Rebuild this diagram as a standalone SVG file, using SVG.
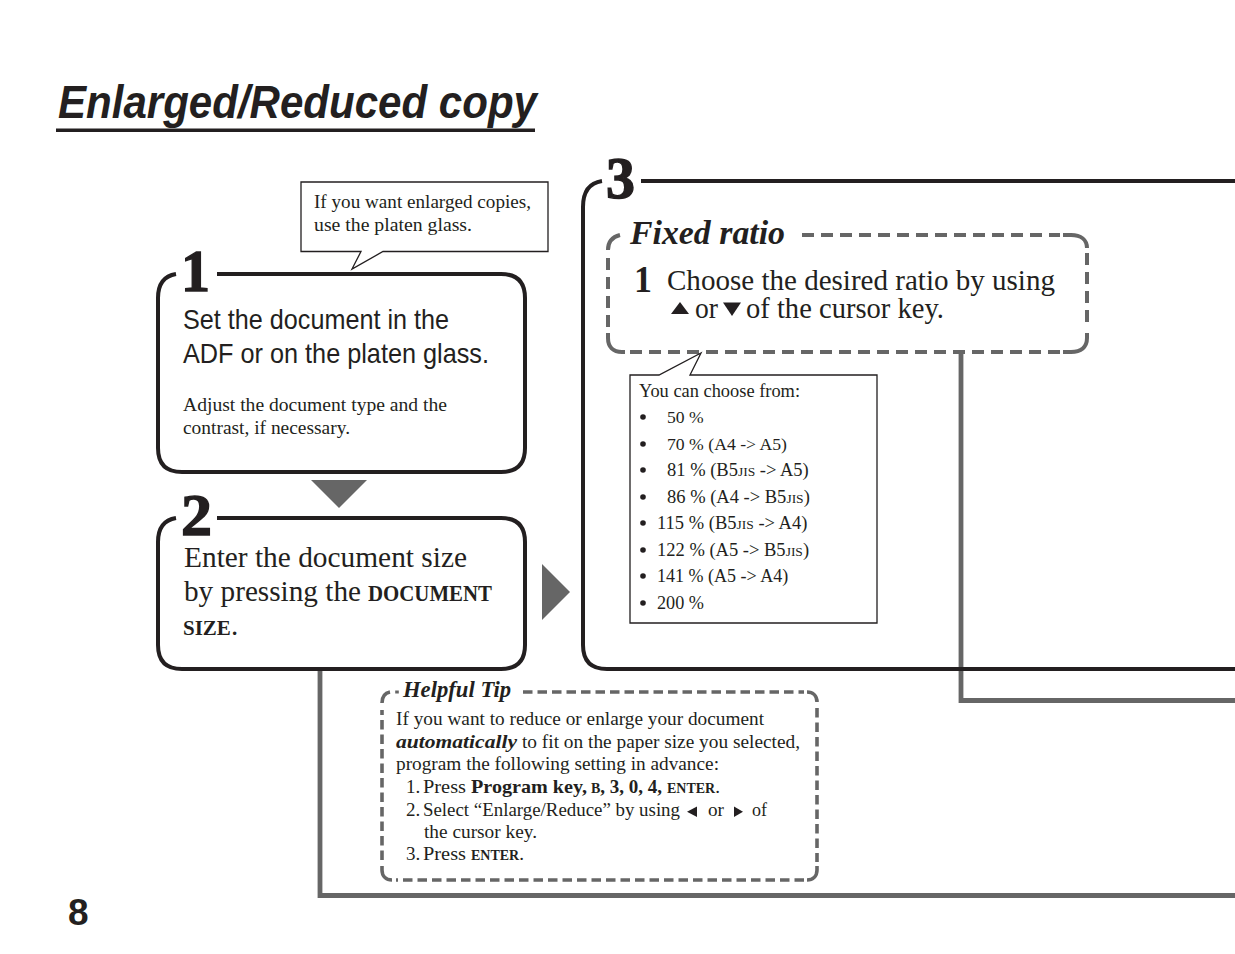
<svg xmlns="http://www.w3.org/2000/svg" width="1235" height="954" viewBox="0 0 1235 954">
<style>
text{font-family:"Liberation Serif","DejaVu Serif",serif;fill:#231f20;font-size:19px}
.s{font-family:"Liberation Sans",Arial,sans-serif}
.b{font-weight:700}
.bi{font-weight:700;font-style:italic}
.big{font-size:28px}
.mid{font-size:29px}
.sc{font-size:14px;font-weight:700}
.jis{font-size:13.500px}
.num{font-size:60px;font-weight:700;stroke:#231f20;stroke-width:1.400}
.frame{fill:none;stroke:#231f20;stroke-width:4}
.dash{fill:none;stroke:#666;stroke-width:4;stroke-dasharray:12 7}
.dash2{fill:none;stroke:#666;stroke-width:3.600;stroke-dasharray:9.500 5}
.corner{fill:none;stroke:#666;stroke-width:4}
.conn{fill:none;stroke:#666;stroke-width:4.800}
.call{fill:#fff;stroke:#231f20;stroke-width:1.300}
.tri{fill:#666}
.key{fill:#231f20}
</style>
<rect width="1235" height="954" fill="#fff"/>
<g id="title">
<text class="s bi" x="58" y="118" style="font-size:46px" textLength="479" lengthAdjust="spacingAndGlyphs">Enlarged/Reduced copy</text>
<rect x="56" y="128.500" width="479" height="3.500" fill="#231f20"/>
</g>
<g id="connectors">
<path class="conn" d="M320 671V895.500H1235"/>
<path class="conn" d="M961 352V700.500H1235"/>
<path class="tri" d="M311 480H367L339 508Z"/>
<path class="tri" d="M542 564V620L570 592Z"/>
</g>
<g id="step1">
<path class="frame" d="M176 274C164 276 158 284 158 298V448C158 464 166 472 182 472H501C517 472 525 464 525 448V298C525 282 517 274 501 274H217"/>
<text class="num" x="181" y="291" textLength="29" lengthAdjust="spacingAndGlyphs">1</text>
<text class="s big" x="183" y="329" textLength="266" lengthAdjust="spacingAndGlyphs">Set the document in the</text>
<text class="s big" x="183" y="363" textLength="306" lengthAdjust="spacingAndGlyphs">ADF or on the platen glass.</text>
<text x="183" y="411" textLength="264" lengthAdjust="spacingAndGlyphs">Adjust the document type and the</text>
<text x="183" y="434" textLength="167" lengthAdjust="spacingAndGlyphs">contrast, if necessary.</text>
</g>
<g id="callout-platen">
<path class="call" d="M301 182H548V251.500H383L352 269L361 251.500H301Z"/>
<text x="314" y="208" textLength="217" lengthAdjust="spacingAndGlyphs">If you want enlarged copies,</text>
<text x="314" y="231" textLength="158" lengthAdjust="spacingAndGlyphs">use the platen glass.</text>
</g>
<g id="step2">
<path class="frame" d="M176 518C164 520 158 528 158 542V645C158 661 166 669 182 669H501C517 669 525 661 525 645V542C525 526 517 518 501 518H217"/>
<text class="num" x="181" y="535" textLength="31" lengthAdjust="spacingAndGlyphs">2</text>
<text class="mid" x="184" y="567" textLength="283" lengthAdjust="spacingAndGlyphs">Enter the document size</text>
<text class="mid" x="184" y="601" textLength="177" lengthAdjust="spacingAndGlyphs">by pressing the</text>
<text class="b" style="font-size:23px" x="368" y="601" textLength="124" lengthAdjust="spacingAndGlyphs">DOCUMENT</text>
<text class="mid" x="183" y="635"><tspan class="b" style="font-size:21px">SIZE</tspan>.</text>
</g>
<g id="step3">
<path class="frame" d="M602 181C589 183 583 192 583 207V645C583 661 591 669 607 669H1235"/>
<path class="frame" d="M641 181H1235"/>
<text class="num" x="606" y="198" textLength="29" lengthAdjust="spacingAndGlyphs">3</text>
</g>
<g id="fixed-ratio">
<path class="dash" d="M802 235H1060"/>
<path class="dash" d="M1087 253V328"/>
<path class="dash" d="M1060 352H628"/>
<path class="dash" d="M608 327V256"/>
<path class="corner" d="M1063 235H1071C1081 235 1087 240 1087 248M1087 333V338C1087 347 1081 352 1071 352H1063M625 352H622C613 352 608 347 608 338V333M608 250C608 242 612 237 620 235"/>
<text class="bi" style="font-size:33px" x="630" y="244" textLength="155" lengthAdjust="spacingAndGlyphs">Fixed ratio</text>
<text class="b" style="font-size:37px" x="634" y="292" textLength="18" lengthAdjust="spacingAndGlyphs">1</text>
<text class="mid"><tspan x="667" y="290" textLength="388" lengthAdjust="spacingAndGlyphs">Choose the desired ratio by using</tspan><tspan x="695" y="318" textLength="23" lengthAdjust="spacingAndGlyphs">or</tspan><tspan x="746" y="318" textLength="198" lengthAdjust="spacingAndGlyphs">of the cursor key.</tspan></text>
<path class="key" d="M671 314L680 302L689 314Z"/>
<path class="key" d="M723 302.500H741L732 316Z"/>
</g>
<g id="callout-ratios">
<path class="call" d="M630 375H659L701 353L690 375H877V623H630Z"/>
<text x="639" y="397" textLength="161" lengthAdjust="spacingAndGlyphs">You can choose from:</text>
<g class="key">
<circle cx="643" cy="417" r="2.800"/><circle cx="643" cy="444" r="2.800"/><circle cx="643" cy="470" r="2.800"/><circle cx="643" cy="497" r="2.800"/><circle cx="643" cy="523" r="2.800"/><circle cx="643" cy="550" r="2.800"/><circle cx="643" cy="576" r="2.800"/><circle cx="643" cy="603" r="2.800"/>
</g>
<text x="667" y="423" style="font-size:17.600px">50 %</text>
<text x="667" y="450" style="font-size:17.700px">70 % (A4 -&gt; A5)</text>
<text x="667" y="476" style="font-size:18.500px">81 % (B5<tspan class="jis">JIS</tspan> -&gt; A5)</text>
<text x="667" y="503" style="font-size:18.500px">86 % (A4 -&gt; B5<tspan class="jis">JIS</tspan>)</text>
<text x="657" y="529" style="font-size:18.500px">115 % (B5<tspan class="jis">JIS</tspan> -&gt; A4)</text>
<text x="657" y="556" style="font-size:18.500px">122 % (A5 -&gt; B5<tspan class="jis">JIS</tspan>)</text>
<text x="657" y="582" style="font-size:18px">141 % (A5 -&gt; A4)</text>
<text x="657" y="609" style="font-size:18.200px">200 %</text>
</g>
<g id="helpful-tip">
<path class="dash2" d="M523 692H804"/>
<path class="dash2" d="M817 708V862"/>
<path class="dash2" d="M804 880H396"/>
<path class="dash2" d="M382 860V710"/>
<path class="corner" style="stroke-width:3.600" d="M807 692C813 692 817 696 817 702M817 866V870C817 876 813 880 807 880M392 880C386 880 382 876 382 870V866M382 703C382 697 385 693 390 692M397 690.500V693.500"/>
<text class="bi" style="font-size:23px" x="403" y="697" textLength="108" lengthAdjust="spacingAndGlyphs">Helpful Tip</text>
<text x="396" y="725" textLength="368" lengthAdjust="spacingAndGlyphs">If you want to reduce or enlarge your document</text>
<text class="bi" x="396" y="748" textLength="121" lengthAdjust="spacingAndGlyphs">automatically</text>
<text x="522" y="748" textLength="278" lengthAdjust="spacingAndGlyphs">to fit on the paper size you selected,</text>
<text x="396" y="770" textLength="323" lengthAdjust="spacingAndGlyphs">program the following setting in advance:</text>
<text x="406" y="793">1.</text>
<text x="423" y="793" textLength="43" lengthAdjust="spacingAndGlyphs">Press</text>
<text class="b" x="471" y="793" textLength="116" lengthAdjust="spacingAndGlyphs">Program key,</text>
<text class="b" x="591" y="793"><tspan class="sc">B</tspan>, 3, 0, 4,</text>
<text x="667" y="793"><tspan class="sc">ENTER</tspan>.</text>
<text x="406" y="816">2.</text>
<text x="423" y="816" textLength="257" lengthAdjust="spacingAndGlyphs">Select “Enlarge/Reduce” by using</text>
<path class="key" d="M697 806.500V817L687 811.700Z"/>
<text x="708" y="816" textLength="16" lengthAdjust="spacingAndGlyphs">or</text>
<path class="key" d="M734 806.500V817L743 811.700Z"/>
<text x="752" y="816" textLength="15" lengthAdjust="spacingAndGlyphs">of</text>
<text x="424" y="838" textLength="113" lengthAdjust="spacingAndGlyphs">the cursor key.</text>
<text x="406" y="860">3.</text>
<text x="423" y="860" textLength="43" lengthAdjust="spacingAndGlyphs">Press</text>
<text x="471" y="860"><tspan class="sc">ENTER</tspan>.</text>
</g>
<g id="page-number">
<text class="s b" style="font-size:37px" x="68" y="925">8</text>
</g>
</svg>
